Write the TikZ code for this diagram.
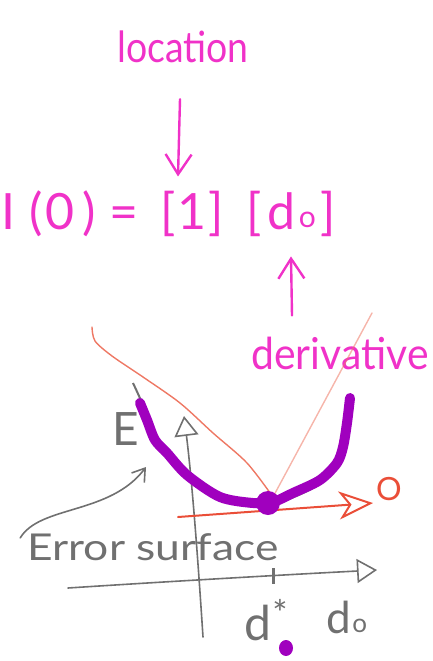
\documentclass[tikz,border=0pt]{standalone}
\usepackage{fontspec}
\setmainfont{Lato}
\usetikzlibrary{calc, positioning}
\usetikzlibrary{arrows.meta}

\definecolor{pen}{RGB}{240,50,200}
\definecolor{pencil}{RGB}{112,112,112}
\definecolor{redpen}{RGB}{234,78,56}
\definecolor{salmon}{RGB}{238,120,100}
\definecolor{grape}{RGB}{160,0,190}
\newcommand{\hand}[1]{\fontsize{#1}{#1}\selectfont}

\begin{document}
\begin{tikzpicture}[x=1pt,y=-1pt,
  every node/.style={inner sep=0pt},
  pink/.style={text=pen},
  grey/.style={text=pencil},
  pinkarr/.style={draw=pen,line width=2.4pt,line cap=round,
    -{Straight Barb[length=20pt,width=26pt]}},
  axis/.style={draw=pencil,line width=1.6pt,line cap=round,
    -{Triangle[open,length=20pt,width=24pt]}},
  gradline/.style={draw=salmon,line width=1.4pt,line cap=round}]
\useasboundingbox (0,0) rectangle (432,661);

% labels
\node[pink,xscale=0.87] (location) at (183,47) {\hand{43}location};
\node[pink,anchor=base west] (lhs) at (1,229) {\hand{50}I\kern14pt(\kern3pt0\kern8pt)};
\node[pink,anchor=base] (eq) at (124,229) {\hand{50}=};
\node[pink,anchor=base] (one) at (192,229) {\hand{50}[\kern2pt1\kern2pt]};
\node[pink,anchor=base] (dvec) at (291,229) {\hand{50}[\kern6pt d\kern3pt\raisebox{2pt}{\hand{30}o}\kern4pt]};
\node[pink,anchor=base,xscale=0.93] (deriv) at (340,369) {\hand{44}derivative};

\draw[pinkarr] ($(location.south)+(-3,36)$) -- ($(one.north)+(-14,-14)$);
\draw[pinkarr] ($(deriv.north)+(-48,-21)$) -- ($(dvec.south)+(0,20)$);

% axes
\draw[axis] (203,637) .. controls (198,560) and (192,480) .. (184,416);
\draw[axis] (68,588) .. controls (160,582) and (280,575) .. (377,570);
\draw[draw=pencil,line width=3pt] (273,568) -- (273,584);

\node[grey,anchor=base] (E) at (126,445) {\hand{46}E};
\node[grey,anchor=base,xscale=1.2] (surf) at (153,560) {\hand{37}Error surface};
\node[grey,anchor=base] (dstar) at (266,640) {\hand{48}d\kern1pt\raisebox{14pt}{\hand{36}*}};
\node[grey,anchor=base] (dzero) at (347,633) {\hand{44}d\kern1pt\raisebox{1pt}{\hand{26}o}};
\coordinate (surftip) at (146,467);
\draw[draw=pencil,line width=1.6pt,line cap=round,-{Straight Barb[length=12pt,width=16pt]}]
  ($(surf.north west)+(-7,5)$) .. controls (40,505) and (110,515) .. (surftip);

% tangent lines
\draw[gradline] plot[smooth] coordinates {(92,327) (95,341) (112,356) (143,377) (180,403) (213,433) (247,463) (273,497)};
\draw[gradline,opacity=0.55] (273,497) -- (372,313);

% zero slope
\node[text=redpen,anchor=base] (zero) at (389,500) {\hand{32}O};
\draw[draw=redpen,line width=2pt,line cap=round,
  -{Stealth[open,length=34pt,width=28pt,inset=10pt]}] (178,517) -- (373,503);

% error curve
\draw[draw=pencil,line width=2pt] plot[smooth] coordinates {(133,383) (143,405) (158,442) (189,477) (222,500) (262,507) (294,497) (323,482) (341,461)};
\draw[draw=grape,line width=10pt,line cap=round,line join=round] plot[smooth] coordinates {(140,403) (147,420) (155,440) (167,453) (187,475) (220,497) (253,503) (273,502) (293,493) (320,480) (337,463) (343,447) (347,423) (350,398)};
\fill[grape] (268,503) circle (12pt);
\fill[grape] (286,648) ellipse (7pt and 8pt);
\end{tikzpicture}
\end{document}
